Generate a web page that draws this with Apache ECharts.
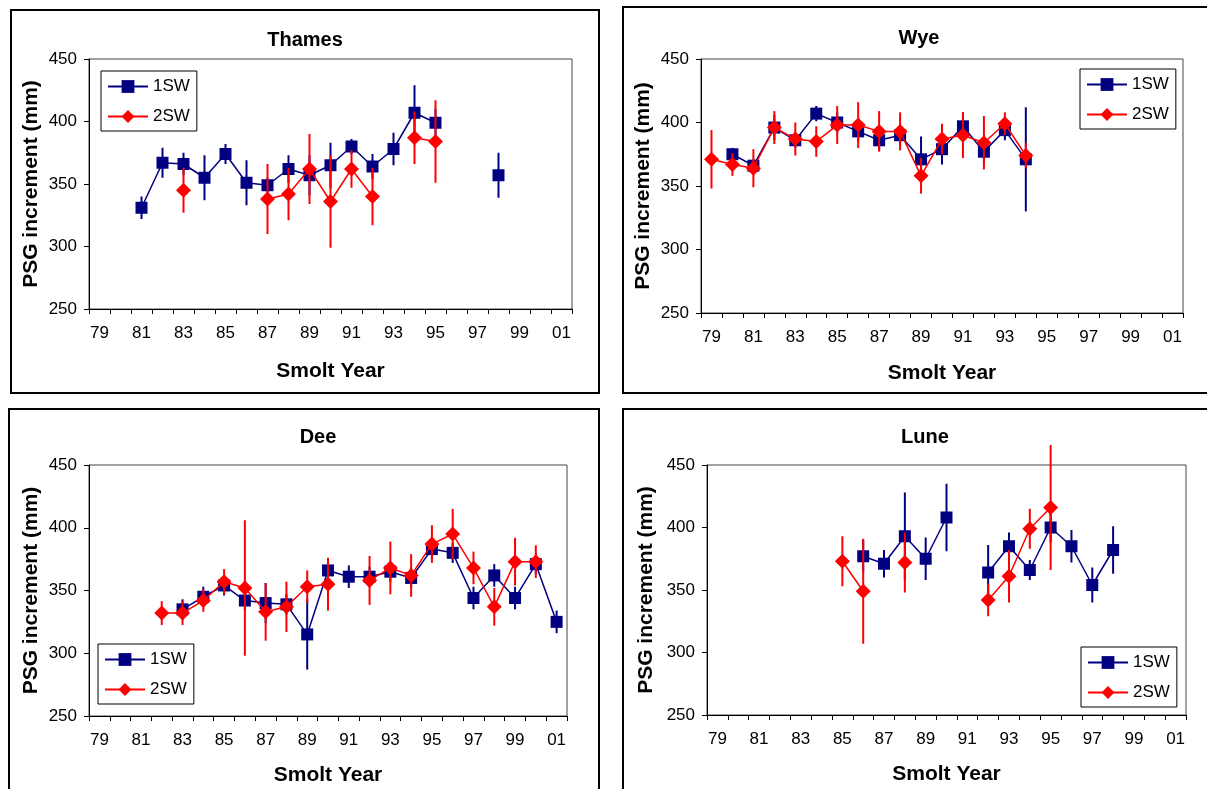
<!DOCTYPE html>
<html>
<head>
<meta charset="utf-8">
<script src="https://cdn.jsdelivr.net/npm/echarts@6/dist/echarts.min.js"></script>
<style>
  html, body { margin: 0; padding: 0; background: #fff; }
  #chart { width: 1207px; height: 789px; }
</style>
</head>
<body>
<div id="chart"></div>
<script>
// Smolt years 1979 .. 2001 (two-digit labels)
const years = ['79','80','81','82','83','84','85','86','87','88','89','90',
               '91','92','93','94','95','96','97','98','99','00','01'];

// Mean post-smolt growth increment (mm) and error (± mm), one value per year
const thames1SW    = [null,null,331,367,366,355,374,351,349,362,357,365,380,364,378,407,399,null,null,357,null,null,null];
const thames1SWErr = [null,null,9,12,9,18,8,18,6,11,16,18,6,10,13,22,11,null,null,18,null,null,null];
const thames2SW    = [null,null,null,null,345,null,null,null,338,342,362,336,362,340,null,387,384,null,null,null,null,null,null];
const thames2SWErr = [null,null,null,null,18,null,null,null,28,21,28,37,15,23,null,21,33,null,null,null,null,null,null];

const wye1SW    = [null,375,366,396,386,407,400,393,386,390,371,379,397,377,394,371,null,null,null,null,null,null,null];
const wye1SWErr = [null,5,5,10,6,6,8,8,8,8,18,12,11,8,8,41,null,null,null,null,null,null,null];
const wye2SW    = [371,367,364,396,387,385,398,398,393,393,358,387,390,384,399,374,null,null,null,null,null,null,null];
const wye2SWErr = [23,9,15,13,13,12,15,18,16,15,14,12,18,21,9,10,null,null,null,null,null,null,null];

const dee1SW    = [null,null,null,null,335,345,354,342,340,339,315,366,361,361,365,360,383,380,344,362,344,371,325];
const dee1SWErr = [null,null,null,null,8,8,8,8,16,8,28,8,9,8,8,8,8,8,9,9,9,8,9];
const dee2SW    = [null,null,null,332,332,342,357,352,333,337,353,355,null,358,368,362,387,395,368,337,373,373,null];
const dee2SWErr = [null,null,null,9.5,9.5,9,10,54,23,20,13,21,null,19.5,21,17,15,20,13,15,19,13,null];

const lune1SW    = [null,null,null,null,null,null,null,377,371,393,375,408,null,364,385,366,400,385,354,382,null,null,null];
const lune1SWErr = [null,null,null,null,null,null,null,13,11,35,17,27,null,22,11,8,12,13,14,19,null,null,null];
const lune2SW    = [null,null,null,null,null,null,373,349,null,372,null,null,null,342,361,399,416,null,null,null,null,null,null];
const lune2SWErr = [null,null,null,null,null,null,20,42,null,24,null,null,null,13,21,16,50,null,null,null,null,null,null];

const yTicks = { min: 250, max: 450, step: 50 };

const NAVY = '#000080';
const RED = '#ff0000';
const FONT = '"Liberation Sans", Arial, sans-serif';

const panels = [
  { name: 'Thames', s1: thames1SW, e1: thames1SWErr, s2: thames2SW, e2: thames2SWErr,
    grid: { left: 89, top: 59, width: 483, height: 250 },
    legend: { left: 101, top: 71 }, title: [305, 40], box: [11, 10, 588, 383], xGap: 52, yGap: 47 },
  { name: 'Wye', s1: wye1SW, e1: wye1SWErr, s2: wye2SW, e2: wye2SWErr,
    grid: { left: 701, top: 59, width: 482, height: 254 },
    legend: { left: 1080, top: 69 }, title: [919, 38], box: [623, 7, 600, 386], xGap: 50, yGap: 47 },
  { name: 'Dee', s1: dee1SW, e1: dee1SWErr, s2: dee2SW, e2: dee2SWErr,
    grid: { left: 89, top: 465, width: 478, height: 251 },
    legend: { left: 98, top: 644 }, title: [318, 437], box: [9, 409, 590, 400], xGap: 49, yGap: 47 },
  { name: 'Lune', s1: lune1SW, e1: lune1SWErr, s2: lune2SW, e2: lune2SWErr,
    grid: { left: 707, top: 465, width: 479, height: 250 },
    legend: { left: 1081, top: 647 }, title: [925, 437], box: [623, 409, 600, 400], xGap: 49, yGap: 50 }
];

// Vertical error bars: each item is [categoryIndex, low, high]
function errorBars(means, errs) {
  const out = [];
  means.forEach((m, i) => {
    if (m != null && errs[i] != null) out.push([i, m - errs[i], m + errs[i]]);
  });
  return out;
}

function renderErrorBar(params, api) {
  const lo = api.coord([api.value(0), api.value(1)]);
  const hi = api.coord([api.value(0), api.value(2)]);
  return {
    type: 'line',
    shape: { x1: lo[0], y1: lo[1], x2: hi[0], y2: hi[1] },
    style: { stroke: api.visual('color'), lineWidth: 2 }
  };
}

const grids = [], xAxes = [], yAxes = [], legends = [], series = [], graphics = [];

panels.forEach((p, i) => {
  grids.push(Object.assign({ show: true, borderColor: '#444', borderWidth: 1, containLabel: false }, p.grid));

  xAxes.push({
    gridIndex: i,
    type: 'category',
    data: years,
    boundaryGap: true,
    name: 'Smolt Year',
    nameLocation: 'middle',
    nameGap: p.xGap,
    nameTextStyle: { fontFamily: FONT, fontWeight: 'bold', fontSize: 21, color: '#000' },
    axisLine: { show: true, lineStyle: { color: '#000', width: 1 } },
    axisTick: { show: true, interval: 0, length: 5, inside: false, lineStyle: { color: '#000' } },
    axisLabel: { interval: 1, margin: 16, fontFamily: FONT, fontSize: 17, color: '#000' },
    splitLine: { show: false }
  });

  yAxes.push({
    gridIndex: i,
    type: 'value',
    min: yTicks.min,
    max: yTicks.max,
    interval: yTicks.step,
    name: 'PSG increment (mm)',
    nameLocation: 'middle',
    nameRotate: 90,
    nameGap: p.yGap,
    nameTextStyle: { fontFamily: FONT, fontWeight: 'bold', fontSize: 21, color: '#000' },
    axisLine: { show: true, lineStyle: { color: '#000', width: 1 } },
    axisTick: { show: true, length: 5, inside: false, lineStyle: { color: '#000' } },
    axisLabel: { margin: 12, fontFamily: FONT, fontSize: 17, color: '#000' },
    splitLine: { show: false }
  });

  legends.push({
    data: ['1SW', '2SW'],
    orient: 'vertical',
    left: p.legend.left,
    top: p.legend.top,
    itemWidth: 40,
    itemHeight: 16,
    itemGap: 13,
    padding: [7, 7, 6, 6],
    borderColor: '#000',
    borderWidth: 1,
    backgroundColor: '#fff',
    textStyle: { fontFamily: FONT, fontSize: 17, color: '#000' },
    selectedMode: false
  });

  series.push({
    type: 'custom', name: '1SW error', xAxisIndex: i, yAxisIndex: i,
    renderItem: renderErrorBar, itemStyle: { color: NAVY },
    encode: { x: 0, y: [1, 2] }, data: errorBars(p.s1, p.e1), z: 2, silent: true
  });
  series.push({
    type: 'line', name: '1SW', xAxisIndex: i, yAxisIndex: i,
    data: p.s1, connectNulls: false,
    showSymbol: true, showAllSymbol: true,
    symbol: 'rect', symbolSize: 12,
    itemStyle: { color: NAVY }, lineStyle: { color: NAVY, width: 1.5 }, z: 3
  });
  series.push({
    type: 'custom', name: '2SW error', xAxisIndex: i, yAxisIndex: i,
    renderItem: renderErrorBar, itemStyle: { color: RED },
    encode: { x: 0, y: [1, 2] }, data: errorBars(p.s2, p.e2), z: 4, silent: true
  });
  series.push({
    type: 'line', name: '2SW', xAxisIndex: i, yAxisIndex: i,
    data: p.s2, connectNulls: false,
    showSymbol: true, showAllSymbol: true,
    symbol: 'diamond', symbolSize: 15,
    itemStyle: { color: RED }, lineStyle: { color: RED, width: 1.5 }, z: 5
  });

  // Panel frame and river name
  graphics.push({
    type: 'rect', silent: true, z: 0,
    shape: { x: p.box[0], y: p.box[1], width: p.box[2], height: p.box[3] },
    style: { fill: 'none', stroke: '#000', lineWidth: 2 }
  });
  graphics.push({
    type: 'text', silent: true, x: p.title[0], y: p.title[1],
    style: { text: p.name, font: 'bold 20px ' + FONT, fill: '#000', textAlign: 'center', textVerticalAlign: 'middle' }
  });
});

const chart = echarts.init(document.getElementById('chart'), null, { renderer: 'canvas' });
chart.setOption({
  animation: false,
  backgroundColor: '#fff',
  grid: grids,
  xAxis: xAxes,
  yAxis: yAxes,
  legend: legends,
  series: series,
  graphic: graphics
});
</script>
</body>
</html>
